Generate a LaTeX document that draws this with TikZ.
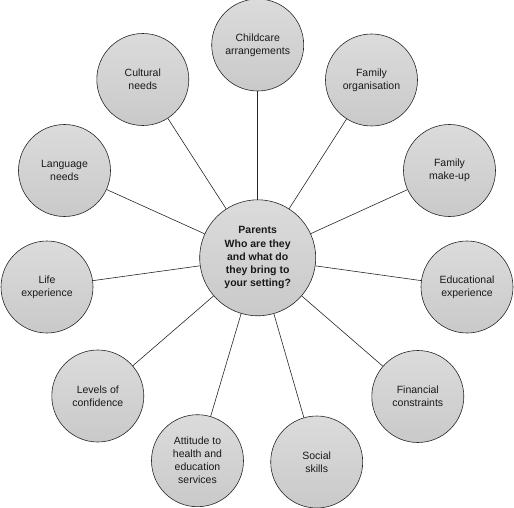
\documentclass[tikz,border=0pt]{standalone}
\usepackage{fontspec}
\setmainfont{Liberation Sans}
\begin{document}
\begin{tikzpicture}[x=1pt,y=-1pt,
  bubble/.style={circle,draw=black!85,line width=0.6pt,minimum size=92pt,inner sep=0pt,
    left color=gray!28,middle color=gray!6,right color=gray!42,shading angle=0,
    align=center,font=\fontsize{10.5}{13}\selectfont,text=black!90},
  hub/.style={bubble,minimum size=116pt,font=\fontsize{10.5}{13.3}\selectfont\bfseries},
  spoke/.style={draw=black!85,line width=0.6pt}]
\useasboundingbox (0,0) rectangle (514,508);
\node[hub] (c) at (257.7,257.8) {Parents\\Who are they\\and what do\\they bring to\\your setting?};
\node[bubble] (ch) at (257.7,45) {Childcare\\arrangements};
\node[bubble] (fo) at (371.5,80) {Family\\organisation};
\node[bubble] (fm) at (449.5,170.5) {Family\\make-up};
\node[bubble] (ee) at (467,287) {Educational\\experience};
\node[bubble] (fc) at (417.8,396.5) {Financial\\constraints};
\node[bubble] (ss) at (316.7,462) {Social\\skills};
\node[bubble] (at) at (197.5,460.7) {Attitude to\\health and\\education\\services};
\node[bubble] (lc) at (97.8,396) {Levels of\\confidence};
\node[bubble] (le) at (47,287) {Life\\experience};
\node[bubble] (ln) at (64.5,170.5) {Language\\needs};
\node[bubble] (cu) at (142.8,79.5) {Cultural\\needs};
\foreach \n in {ch,fo,fm,ee,fc,ss,at,lc,le,ln,cu}
  \draw[spoke] (c) -- (\n);
\end{tikzpicture}
\end{document}
